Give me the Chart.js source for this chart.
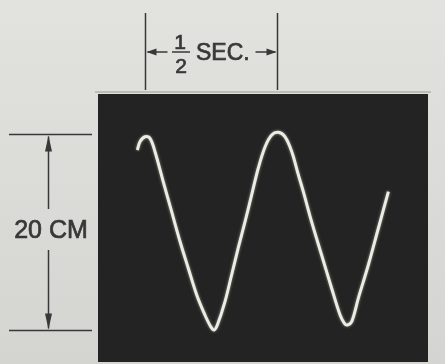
<!DOCTYPE html>
<html>
<head>
<meta charset="utf-8">
<script src="https://cdn.jsdelivr.net/npm/chart.js@4/dist/chart.umd.min.js"></script>
<style>
  html, body { margin: 0; padding: 0; background: #d9d9d5; }
  #wrap { width: 445px; height: 364px; position: relative; }
</style>
</head>
<body>
<div id="wrap"><canvas id="c" width="445" height="364"></canvas></div>
<script>
// Trace: time (s) and deflection (cm)
const traceTime = [0.149, 0.159, 0.178, 0.197, 0.216, 0.247, 0.279, 0.311, 0.342, 0.374, 0.405, 0.427, 0.440, 0.452, 0.481, 0.506, 0.531, 0.557, 0.582, 0.607, 0.633, 0.658, 0.683, 0.708, 0.734, 0.759, 0.778, 0.809, 0.847, 0.885, 0.917, 0.934, 0.945, 0.961, 0.986, 1.024, 1.062, 1.100];
const traceCm   = [8.37, 9.21, 9.72, 9.56, 8.19, 5.13, 2.07, -1.00, -3.70, -6.43, -8.47, -9.66, -10.0, -9.50, -7.11, -4.39, -1.66, 1.05, 3.78, 6.50, 8.70, 9.90, 10.17, 9.72, 8.19, 5.82, 4.10, 1.05, -2.35, -5.74, -8.47, -9.35, -9.49, -9.15, -6.77, -3.37, 0.38, 4.11];
// Scale markers
const timeMarker = [0.178, 0.678];   // 1/2 second bracket
const cmMarker = [10, -10];          // 20 cm bracket
const timeLabel = ["1", "2", "SEC."];
const cmLabel = "20 CM";

const points = traceTime.map((t, i) => ({ x: t, y: traceCm[i] }));
const ink = '#383838';

function arrowHead(ctx, x, y, dir, len, half) {
  ctx.beginPath();
  if (dir === 'left') { ctx.moveTo(x, y); ctx.lineTo(x + len, y - half); ctx.lineTo(x + len, y + half); }
  if (dir === 'right') { ctx.moveTo(x, y); ctx.lineTo(x - len, y - half); ctx.lineTo(x - len, y + half); }
  if (dir === 'up') { ctx.moveTo(x, y); ctx.lineTo(x - half, y + len); ctx.lineTo(x + half, y + len); }
  if (dir === 'down') { ctx.moveTo(x, y); ctx.lineTo(x - half, y - len); ctx.lineTo(x + half, y - len); }
  ctx.closePath();
  ctx.fill();
}

function boldText(ctx, s, x, y) {
  ctx.fillText(s, x, y);
  ctx.lineWidth = 0.7;
  ctx.strokeText(s, x, y);
}

const scopePlugin = {
  id: 'scope',
  beforeDraw(chart) {
    const { ctx, chartArea: a } = chart;
    ctx.save();
    const g = ctx.createLinearGradient(0, 0, 0, chart.height);
    g.addColorStop(0, '#e2e2de');
    g.addColorStop(1, '#d4d4d0');
    ctx.fillStyle = g;
    ctx.fillRect(0, 0, chart.width, chart.height);
    ctx.fillStyle = '#bdbdb8';
    ctx.fillRect(a.left - 3, a.top - 3, a.right - a.left + 6, 2);
    ctx.fillStyle = '#232323';
    ctx.fillRect(a.left, a.top, a.right - a.left, a.bottom - a.top);
    ctx.restore();
  },
  beforeDatasetsDraw(chart) {
    const ctx = chart.ctx;
    ctx.save();
    ctx.shadowColor = 'rgba(255,255,240,0.5)';
    ctx.shadowBlur = 3;
  },
  afterDatasetsDraw(chart) {
    chart.ctx.restore();
  },
  afterDraw(chart) {
    const { ctx, scales: { x, y } } = chart;
    ctx.save();
    ctx.strokeStyle = ink;
    ctx.fillStyle = ink;
    ctx.lineWidth = 1.5;

    // --- 1/2 SEC bracket ---
    const xa = Math.round(x.getPixelForValue(timeMarker[0])) + 0.5;
    const xb = Math.round(x.getPixelForValue(timeMarker[1])) + 0.5;
    const yTop = 13, yBot = 90, yArr = 52;
    ctx.beginPath();
    ctx.moveTo(xa, yTop); ctx.lineTo(xa, yBot);
    ctx.moveTo(xb, yTop); ctx.lineTo(xb, yBot);
    ctx.moveTo(xa + 2, yArr); ctx.lineTo(xa + 22, yArr);
    ctx.moveTo(xb - 22, yArr); ctx.lineTo(xb - 2, yArr);
    ctx.moveTo(172, yArr); ctx.lineTo(190, yArr);   // fraction bar
    ctx.stroke();
    arrowHead(ctx, xa + 1, yArr, 'left', 10, 3.5);
    arrowHead(ctx, xb - 1, yArr, 'right', 10, 3.5);

    ctx.textBaseline = 'alphabetic';
    ctx.textAlign = 'center';
    ctx.font = '21px "Liberation Sans", Arial, sans-serif';
    boldText(ctx, timeLabel[0], 180, 49);
    boldText(ctx, timeLabel[1], 181, 73);
    ctx.font = '23px "Liberation Sans", Arial, sans-serif';
    ctx.textAlign = 'left';
    boldText(ctx, timeLabel[2], 196, 60);

    // --- 20 CM bracket ---
    ctx.lineWidth = 1.5;
    const ya = Math.round(y.getPixelForValue(cmMarker[0])) + 0.5;
    const yb = Math.round(y.getPixelForValue(cmMarker[1])) + 0.5;
    const xl = 9, xr = 92, xm = 48.5;
    ctx.beginPath();
    ctx.moveTo(xl, ya); ctx.lineTo(xr, ya);
    ctx.moveTo(xl, yb); ctx.lineTo(xr, yb);
    ctx.moveTo(xm, ya + 2); ctx.lineTo(xm, 209);
    ctx.moveTo(xm, 250); ctx.lineTo(xm, yb - 2);
    ctx.stroke();
    arrowHead(ctx, xm, ya + 1, 'up', 16, 3.5);
    arrowHead(ctx, xm, yb - 1, 'down', 16, 3.5);

    ctx.textAlign = 'center';
    ctx.font = '25px "Liberation Sans", Arial, sans-serif';
    boldText(ctx, cmLabel, 51, 238);
    ctx.restore();
  }
};

new Chart(document.getElementById('c'), {
  type: 'line',
  data: {
    datasets: [{
      data: points,
      borderColor: '#ecece4',
      borderWidth: 3,
      pointRadius: 0,
      fill: false,
      tension: 0.35
    }]
  },
  options: {
    responsive: false,
    animation: false,
    layout: { padding: { left: 98, right: 17, top: 94, bottom: 2 } },
    plugins: { legend: { display: false }, tooltip: { enabled: false } },
    scales: {
      x: { type: 'linear', min: 0, max: 1.25, display: false },
      y: { type: 'linear', min: -13.27, max: 14.08, display: false }
    }
  },
  plugins: [scopePlugin]
});
</script>
</body>
</html>
